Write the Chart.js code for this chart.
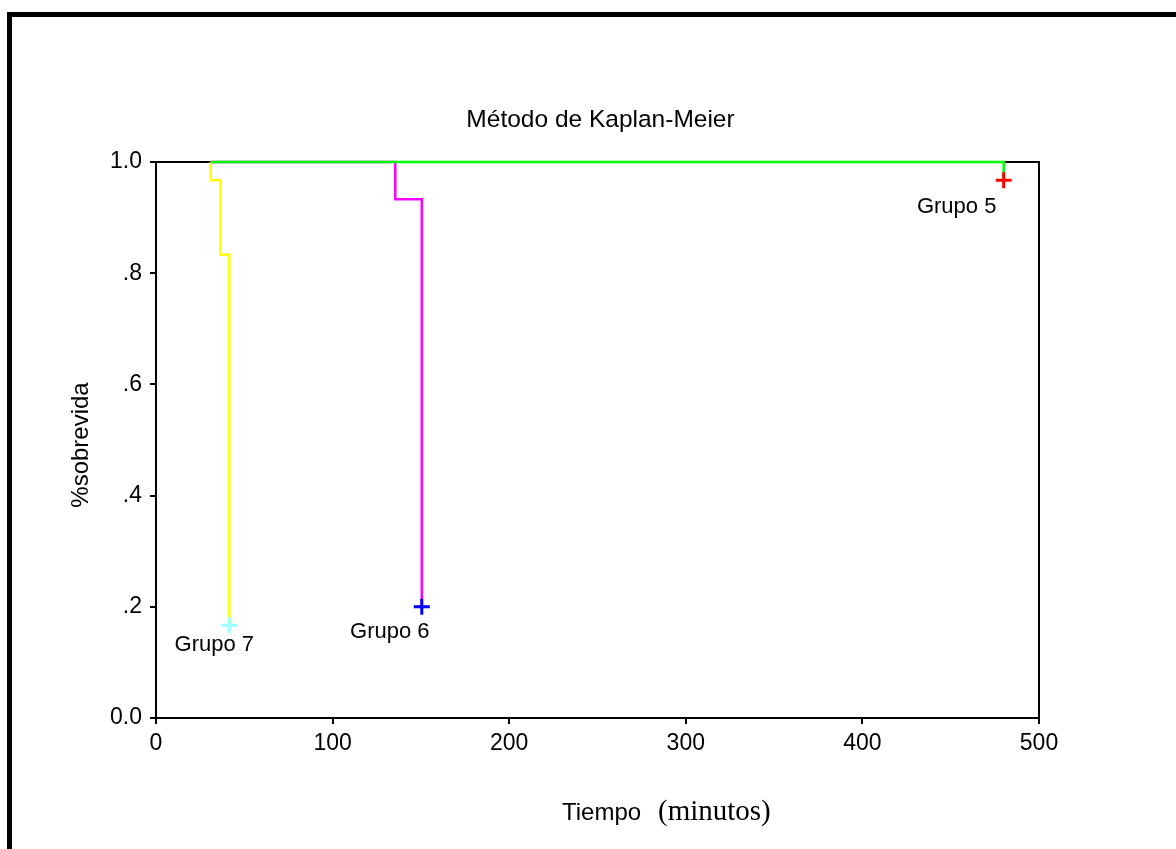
<!DOCTYPE html>
<html>
<head>
<meta charset="utf-8">
<script src="https://cdn.jsdelivr.net/npm/chart.js@4.4.0/dist/chart.umd.min.js"></script>
<style>
  html, body { margin: 0; padding: 0; background: #fff; }
  #wrap { width: 1176px; height: 849px; position: relative; }
</style>
</head>
<body>
<div id="wrap"><canvas id="km"></canvas></div>
<script>
// survival data (time in minutes, survival fraction)
var g5Time = [31, 480];
var g5Surv = [1, 0.967];
var g6Time = [31, 135.5, 150.5];
var g6Surv = [1, 0.933, 0.2];
var g7Time = [31, 31, 36.5, 41.5];
var g7Surv = [1, 0.967, 0.833, 0.167];

// censored (last) observations per group
var groupNames = ['Grupo 5', 'Grupo 6', 'Grupo 7'];
var censorTime = [480, 150.5, 41.5];
var censorSurv = [0.967, 0.2, 0.167];

var xTicks = [0, 100, 200, 300, 400, 500];
var yTicks = [0, 0.2, 0.4, 0.6, 0.8, 1];

function pts(t, s) {
    var out = [];
    for (var i = 0; i < t.length; i++) out.push({ x: t[i], y: s[i] });
    return out;
}

var lineColors = ['#00ff00', '#ff00ff', '#ffff00'];
var censorColors = ['#ff0000', '#0000ff', '#99ffff'];
var curves = [pts(g5Time, g5Surv), pts(g6Time, g6Surv), pts(g7Time, g7Surv)];

var datasets = [];
for (var i = 0; i < curves.length; i++) {
    datasets.push({
        label: groupNames[i],
        data: curves[i],
        borderColor: lineColors[i],
        borderWidth: 2.5,
        stepped: 'before',
        pointRadius: 0,
        fill: false,
        clip: 6,
        order: 10
    });
}
for (var i = 0; i < censorTime.length; i++) {
    datasets.push({
        label: groupNames[i] + ' censurado',
        type: 'scatter',
        data: [{ x: censorTime[i], y: censorSurv[i] }],
        pointStyle: 'cross',
        pointRadius: 8,
        borderWidth: 3,
        borderColor: censorColors[i],
        backgroundColor: censorColors[i],
        clip: 12,
        order: 1
    });
}

// label offsets (px) from each censor mark, like the SPSS annotations
var labelOffset = [[-47, 33], [-32, 31], [-15, 26]];

var decor = {
    id: 'decor',
    beforeDraw: function(chart) {
        var c = chart.ctx;
        c.save();
        c.fillStyle = '#fff';
        c.fillRect(0, 0, chart.width, chart.height);
        // outer frame (top and left only are visible)
        c.fillStyle = '#000';
        c.fillRect(7, 12, chart.width - 7, 5);
        c.fillRect(7, 12, 5, chart.height - 12);
        c.restore();
    },
    beforeDatasetsDraw: function(chart) {
        var a = chart.chartArea, c = chart.ctx;
        c.save();
        c.strokeStyle = '#000';
        c.lineWidth = 2;
        c.beginPath();
        c.moveTo(a.left, a.top);
        c.lineTo(a.right, a.top);
        c.lineTo(a.right, a.bottom);
        c.stroke();
        c.restore();
    },
    afterDraw: function(chart) {
        var c = chart.ctx, a = chart.chartArea;
        var xs = chart.scales.x, ys = chart.scales.y;
        c.save();
        c.fillStyle = '#000';
        c.textBaseline = 'alphabetic';

        c.font = '24.5px "Liberation Sans", Arial, sans-serif';
        c.textAlign = 'center';
        c.fillText('Método de Kaplan-Meier', (a.left + a.right) / 2 + 3, 127);

        c.font = '22px "Liberation Sans", Arial, sans-serif';
        for (var i = 0; i < groupNames.length; i++) {
            var px = xs.getPixelForValue(censorTime[i]);
            var py = ys.getPixelForValue(censorSurv[i]);
            c.fillText(groupNames[i], px + labelOffset[i][0], py + labelOffset[i][1]);
        }

        // y axis title
        c.save();
        c.translate(88, (a.top + a.bottom) / 2 + 5);
        c.rotate(-Math.PI / 2);
        c.font = '24px "Liberation Sans", Arial, sans-serif';
        c.textAlign = 'center';
        c.fillText('%sobrevida', 0, 0);
        c.restore();

        // x axis title: sans + serif part
        c.textAlign = 'left';
        c.font = '24px "Liberation Sans", Arial, sans-serif';
        c.fillText('Tiempo', 562, 820);
        c.font = '29px "Liberation Serif", "Times New Roman", serif';
        c.fillText('(minutos)', 658, 820);
        c.restore();
    }
};

var tickFont = { family: '"Liberation Sans", Arial, sans-serif', size: 23 };

new Chart(document.getElementById('km'), {
    type: 'line',
    data: { datasets: datasets },
    options: {
        responsive: true,
        maintainAspectRatio: false,
        animation: false,
        events: [],
        layout: { padding: { left: 100, right: 137, top: 162, bottom: 91 } },
        plugins: { legend: { display: false }, tooltip: { enabled: false }, title: { display: false } },
        scales: {
            x: {
                type: 'linear',
                min: 0,
                max: 500,
                afterFit: function(s) { s.height = 40; },
                afterBuildTicks: function(s) { s.ticks = xTicks.map(function(v) { return { value: v }; }); },
                ticks: { color: '#000', font: tickFont, padding: 6, maxRotation: 0 },
                grid: { drawOnChartArea: false, drawTicks: true, tickLength: 6, color: '#000', lineWidth: 2 },
                border: { display: true, color: '#000', width: 2 }
            },
            y: {
                type: 'linear',
                min: 0,
                max: 1,
                afterFit: function(s) { s.width = 56; },
                afterBuildTicks: function(s) { s.ticks = yTicks.map(function(v) { return { value: v }; }); },
                ticks: {
                    color: '#000',
                    font: tickFont,
                    padding: 8,
                    callback: function(v) {
                        if (v === 0) return '0.0';
                        if (v === 1) return '1.0';
                        return v.toFixed(1).replace(/^0/, '');
                    }
                },
                grid: { drawOnChartArea: false, drawTicks: true, tickLength: 6, color: '#000', lineWidth: 2 },
                border: { display: true, color: '#000', width: 2 }
            }
        }
    },
    plugins: [decor]
});
</script>
</body>
</html>
